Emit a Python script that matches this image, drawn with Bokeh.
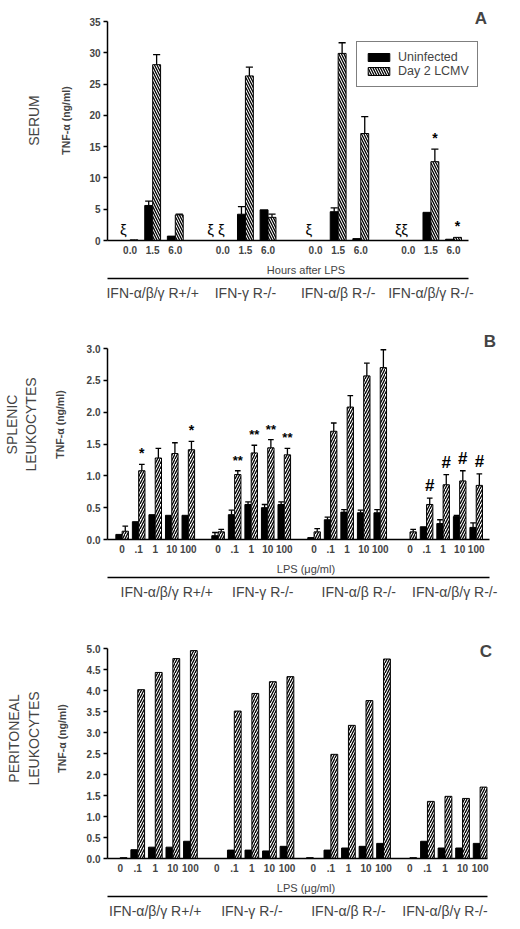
from bokeh.plotting import figure
from bokeh.layouts import column
from bokeh.models import (LinearAxis, FixedTicker, Label, Legend, LegendItem,
                          NumeralTickFormatter, ColumnDataSource)
from bokeh.core.properties import value, field
from bokeh.embed import file_html
from bokeh.resources import INLINE

FONT = "Liberation Sans"

strains = ["IFN-α/β/γ R+/+", "IFN-γ R-/-", "IFN-α/β R-/-", "IFN-α/β/γ R-/-"]
hours = ["0.0", "1.5", "6.0"]
doses = ["0", ".1", "1", "10", "100"]

# A - serum TNF-a (ng/ml); rows = strain, cols = hours after LPS; *_hi = top of error bar
serum_uninf = [[0.0, 5.6, 0.7], [0.0, 4.2, 4.9], [0.0, 4.6, 0.3], [0.0, 4.5, 0.2]]
serum_uninf_hi = [[0.0, 6.3, 0.7], [0.0, 5.4, 4.9], [0.0, 5.2, 0.3], [0.0, 4.5, 0.2]]
serum_lcmv = [[0.1, 28.1, 4.1], [0.0, 26.3, 3.7], [0.0, 29.9, 17.1], [0.0, 12.6, 0.5]]
serum_lcmv_hi = [[0.1, 29.7, 4.2], [0.0, 27.7, 4.2], [0.0, 31.6, 19.8], [0.0, 14.6, 0.5]]
serum_xi = ["ξ", "ξ ξ", "ξ", "ξξ"]
serum_sig = [(3, 1, "*"), (3, 2, "*")]

# B - splenic leukocytes; cols = LPS dose
spl_uninf = [[0.08, 0.28, 0.39, 0.38, 0.38],
             [0.06, 0.39, 0.55, 0.50, 0.55],
             [0.03, 0.31, 0.43, 0.42, 0.42],
             [0.00, 0.20, 0.25, 0.36, 0.19]]
spl_uninf_hi = [[0.08, 0.28, 0.39, 0.38, 0.38],
                [0.11, 0.46, 0.59, 0.55, 0.59],
                [0.03, 0.35, 0.47, 0.46, 0.47],
                [0.00, 0.20, 0.31, 0.38, 0.26]]
spl_lcmv = [[0.13, 1.08, 1.28, 1.35, 1.41],
            [0.12, 1.02, 1.36, 1.44, 1.33],
            [0.12, 1.70, 2.08, 2.57, 2.70],
            [0.12, 0.55, 0.86, 0.92, 0.85]]
spl_lcmv_hi = [[0.21, 1.18, 1.43, 1.52, 1.54],
               [0.16, 1.08, 1.48, 1.57, 1.43],
               [0.17, 1.83, 2.26, 2.77, 2.98],
               [0.16, 0.65, 1.02, 1.08, 1.03]]
spl_sig = [(0, 1, "*"), (0, 4, "*"),
           (1, 1, "**"), (1, 2, "**"), (1, 3, "**"), (1, 4, "**"),
           (3, 1, "#"), (3, 2, "#"), (3, 3, "#"), (3, 4, "#")]

# C - peritoneal leukocytes (no error bars)
per_uninf = [[0.00, 0.21, 0.27, 0.27, 0.41],
             [0.00, 0.20, 0.20, 0.18, 0.29],
             [0.02, 0.20, 0.25, 0.29, 0.36],
             [0.00, 0.41, 0.25, 0.25, 0.36]]
per_lcmv = [[0.02, 4.02, 4.43, 4.76, 4.95],
            [0.00, 3.51, 3.93, 4.21, 4.33],
            [0.00, 2.48, 3.17, 3.76, 4.75],
            [0.02, 1.36, 1.48, 1.43, 1.70]]

ticks_a = [0, 5, 10, 15, 20, 25, 30, 35]
ticks_b = [0.0, 0.5, 1.0, 1.5, 2.0, 2.5, 3.0]
ticks_c = [0.0, 0.5, 1.0, 1.5, 2.0, 2.5, 3.0, 3.5, 4.0, 4.5, 5.0]

SIG_SIZE = {"*": "14px", "**": "13px", "#": "17px"}
PAGE_LEFT, PAGE_RIGHT = 8, 512


def flat(rows):
    return [v for r in rows for v in r]


def title_axis(text, standoff):
    ax = LinearAxis(ticker=FixedTicker(ticks=[]), axis_label=text)
    ax.axis_line_color = None
    ax.major_tick_line_color = None
    ax.minor_tick_line_color = None
    ax.major_tick_out = 0
    ax.minor_tick_out = 0
    ax.major_label_standoff = 0
    ax.axis_label_text_font = FONT
    ax.axis_label_text_font_size = "14px"
    ax.axis_label_text_font_style = "normal"
    ax.axis_label_standoff = standoff
    return ax


def panel(geo, letter, titles, levels, pitch, bar_w, y_ticks, y_fmt, x_label,
          uninf, uninf_hi, lcmv, lcmv_hi, hatch, sig, label_shift=0,
          title_standoffs=(28,), tnf_standoff=16):
    n = len(levels)
    xs = [g * pitch + i * 10 for g in range(4) for i in range(n)]
    # pixel geometry -> ranges (frame runs to the top and right edge of the figure)
    ux = (geo["x_last"] - geo["x_first"]) / (xs[-1] - xs[0])
    uy = (geo["y0"] - geo["ytop"]) / y_ticks[-1]
    x_start = xs[0] - (geo["x_first"] - geo["left"]) / ux
    x_axis_end = xs[-1] + (geo["right"] - geo["x_last"]) / ux
    x_end = xs[-1] + (PAGE_RIGHT - geo["x_last"]) / ux
    y_end = y_ticks[-1] + (geo["ytop"] - geo["top"]) / uy

    p = figure(width=PAGE_RIGHT - PAGE_LEFT, height=geo["h"],
               x_range=(x_start, x_end), y_range=(0, y_end),
               output_backend="svg", toolbar_location=None, tools="", title=None,
               min_border_top=0, min_border_right=0,
               min_border_left=geo["left"] - PAGE_LEFT,
               min_border_bottom=geo["top"] + geo["h"] - geo["y0"])
    p.outline_line_color = None
    p.grid.visible = False

    half = bar_w / 2
    xb = [x - half for x in xs]
    xh = [x + half for x in xs]
    u, uh, l, lh = flat(uninf), flat(uninf_hi), flat(lcmv), flat(lcmv_hi)

    rb = p.vbar(x=xb, top=u, width=bar_w, fill_color="black",
                line_color="black", line_width=1)
    rh = p.vbar(x=xh, top=l, width=bar_w, fill_color="white",
                line_color="black", line_width=1,
                hatch_pattern=hatch, hatch_color="black",
                hatch_scale=5, hatch_weight=1.3)

    ex, e0, e1 = [], [], []
    for x, t, e in zip(xb + xh, u + l, uh + lh):
        if e > t:
            ex.append(x)
            e0.append(t)
            e1.append(e)
    cap = bar_w * 0.45
    p.segment(x0=ex, y0=e0, x1=ex, y1=e1, line_color="black", line_width=1.3)
    p.segment(x0=[x - cap for x in ex], y0=e1, x1=[x + cap for x in ex], y1=e1,
              line_color="black", line_width=1.3)

    if sig:
        src = ColumnDataSource(dict(
            x=[g * pitch + i * 10 + half for g, i, _ in sig],
            y=[lcmv_hi[g][i] for g, i, _ in sig],
            t=[s for _, _, s in sig],
            fs=[SIG_SIZE[s] for _, _, s in sig]))
        p.text(x="x", y="y", text="t", source=src, text_align="center",
               text_baseline="bottom", y_offset=-3, text_font=value(FONT),
               text_font_size=field("fs"), text_font_style="bold", text_color="black")

    # y axis
    ya = p.yaxis[0]
    ya.ticker = FixedTicker(ticks=y_ticks)
    ya.bounds = (0, y_ticks[-1])
    if y_fmt:
        ya.formatter = NumeralTickFormatter(format=y_fmt)
    ya.axis_line_width = 1.5
    ya.major_tick_out = 4
    ya.major_tick_in = 0
    ya.minor_tick_out = 0
    ya.major_tick_line_width = 1.3
    ya.minor_tick_line_color = None
    ya.major_label_standoff = 3
    ya.major_label_text_font = FONT
    ya.major_label_text_font_size = "10px"
    ya.major_label_text_font_style = "bold"
    ya.axis_label = "TNF-α (ng/ml)"
    ya.axis_label_text_font = FONT
    ya.axis_label_text_font_size = "10.5px"
    ya.axis_label_text_font_style = "bold"
    ya.axis_label_standoff = tnf_standoff
    for t, s in zip(titles, title_standoffs):
        p.add_layout(title_axis(t, s), "left")

    # x axis: levels
    xa = p.xaxis[0]
    xa.ticker = FixedTicker(ticks=xs)
    xa.bounds = (x_start, x_axis_end)
    xa.major_label_overrides = {x: lab for x, lab in zip(xs, levels * 4)}
    xa.axis_line_width = 1.5
    xa.major_tick_line_color = None
    xa.minor_tick_line_color = None
    xa.major_tick_out = 0
    xa.minor_tick_out = 0
    xa.major_label_standoff = 5
    xa.major_label_text_font = FONT
    xa.major_label_text_font_size = "10px"
    xa.major_label_text_font_style = "bold"
    xa.axis_label = x_label
    xa.axis_label_text_font = FONT
    xa.axis_label_text_font_size = "11px"
    xa.axis_label_text_font_style = "normal"
    xa.axis_label_standoff = 7

    # x axis: strains under a rule
    centers = [g * pitch + (n - 1) * 5 + label_shift for g in range(4)]
    ga = LinearAxis(ticker=FixedTicker(ticks=centers),
                    major_label_overrides={c: s for c, s in zip(centers, strains)})
    ga.bounds = (x_start, x_axis_end)
    ga.axis_line_width = 1.5
    ga.major_tick_line_color = None
    ga.minor_tick_line_color = None
    ga.major_tick_out = 0
    ga.minor_tick_out = 0
    ga.major_label_standoff = 6
    ga.major_label_text_font = FONT
    ga.major_label_text_font_size = "14px"
    ga.major_label_text_font_style = "normal"
    p.add_layout(ga, "below")

    lx, ly = geo["letter"]
    p.add_layout(Label(x=xs[0] + (lx - geo["x_first"]) / ux, y=(geo["y0"] - ly) / uy,
                       text=letter, text_font=FONT, text_font_size="17px",
                       text_font_style="bold", text_align="center",
                       text_baseline="middle"))
    return p, rb, rh, xs


geo_a = dict(top=1, h=309, left=107, right=475, y0=241, ytop=22,
             x_first=130, x_last=460, letter=(488, 19))
geo_b = dict(top=310, h=309, left=105, right=497, y0=540, ytop=349,
             x_first=120, x_last=483, letter=(497, 342))
geo_c = dict(top=619, h=309, left=105, right=495, y0=859, ytop=649,
             x_first=118, x_last=487, letter=(493, 652))

pa, rb, rh, xs_a = panel(geo_a, "A", ["SERUM"], hours, 41, 3.5, ticks_a, None,
                         "Hours after LPS", serum_uninf, serum_uninf_hi,
                         serum_lcmv, serum_lcmv_hi, "left_diagonal_line", serum_sig,
                         title_standoffs=(16,), tnf_standoff=14)
pa.text(x=[g * 41 - 3 for g in range(4)], y=[0] * 4, text=serum_xi,
        text_align="center", text_baseline="bottom", y_offset=-3,
        text_font=value(FONT), text_font_size="15px", text_color="black")
legend = Legend(items=[LegendItem(label="Uninfected", renderers=[rb]),
                       LegendItem(label="Day 2 LCMV", renderers=[rh])],
                location=(356 - geo_a["left"], geo_a["y0"] - 88))
legend.border_line_color = "black"
legend.border_line_width = 1.2
legend.padding = 8
legend.spacing = 0
legend.margin = 0
legend.glyph_width = 27
legend.glyph_height = 10
legend.label_standoff = 6
legend.label_height = 11
legend.label_text_font = FONT
legend.label_text_font_size = "12.5px"
legend.background_fill_alpha = 1
pa.add_layout(legend)

pb, _, _, _ = panel(geo_b, "B", ["LEUKOCYTES", "SPLENIC"], doses, 58, 3.8, ticks_b, "0.0",
                    "LPS (μg/ml)", spl_uninf, spl_uninf_hi, spl_lcmv, spl_lcmv_hi,
                    "right_diagonal_line", spl_sig, label_shift=7,
                    title_standoffs=(12, 0), tnf_standoff=18)

pc, _, _, _ = panel(geo_c, "C", ["LEUKOCYTES", "PERITONEAL"], doses, 55, 3.9, ticks_c, "0.0",
                    "LPS (μg/ml)", per_uninf, per_uninf, per_lcmv, per_lcmv,
                    "right_diagonal_line", [],
                    title_standoffs=(11, 1), tnf_standoff=16)

layout = column(pa, pb, pc)
open("out.html", "w").write(file_html(layout, INLINE))
